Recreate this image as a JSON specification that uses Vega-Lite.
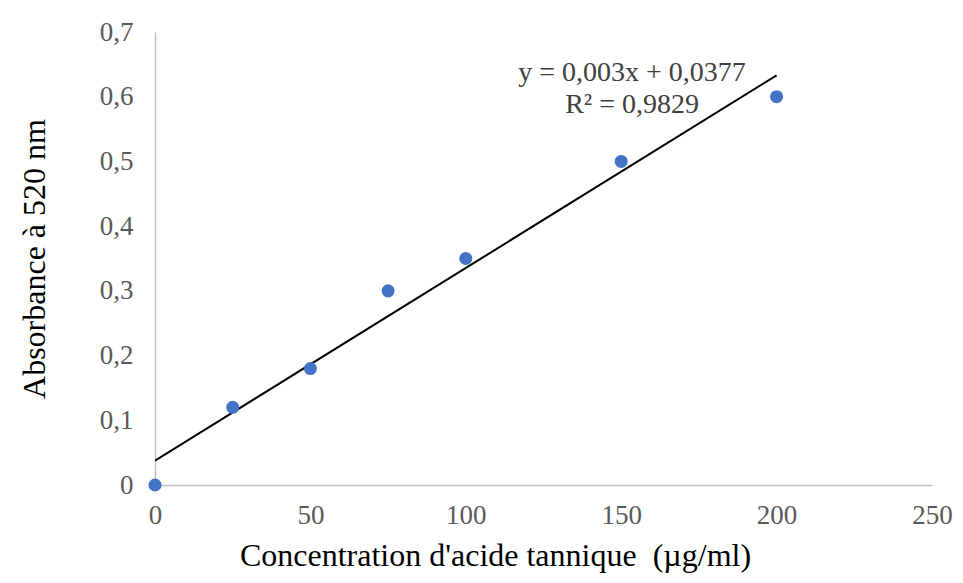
{
  "$schema": "https://vega.github.io/schema/vega-lite/v6.json",
  "autosize": "none",
  "width": 777,
  "height": 453,
  "padding": {"left": 155, "top": 32, "right": 31, "bottom": 98},
  "background": "white",
  "config": {
    "view": {"stroke": null},
    "font": "Liberation Serif",
    "axis": {
      "labelFont": "Liberation Serif",
      "titleFont": "Liberation Serif",
      "labelFontSize": 27,
      "labelColor": "#595959",
      "titleFontSize": 32,
      "titleFontWeight": "normal",
      "titleColor": "#000000",
      "domainColor": "#BFBFBF",
      "domainWidth": 1.5,
      "ticks": false,
      "grid": false,
      "labelFlush": false,
      "labelOverlap": false,
      "labelBound": false
    }
  },
  "datasets": {
    "pts": [
      {"conc": 0, "abs": 0},
      {"conc": 25, "abs": 0.12},
      {"conc": 50, "abs": 0.18},
      {"conc": 75, "abs": 0.3},
      {"conc": 100, "abs": 0.35},
      {"conc": 150, "abs": 0.5},
      {"conc": 200, "abs": 0.6}
    ],
    "eq": [
      {"conc": 153.5, "abs": 0.636, "label": "y = 0,003x + 0,0377"},
      {"conc": 153.5, "abs": 0.587, "label": "R² = 0,9829"}
    ]
  },
  "layer": [
    {
      "data": {"name": "pts"},
      "transform": [
        {"regression": "abs", "on": "conc", "method": "linear", "extent": [0, 200]}
      ],
      "mark": {"type": "line", "color": "#000000", "strokeWidth": 2, "clip": true},
      "encoding": {
        "x": {"field": "conc", "type": "quantitative"},
        "y": {"field": "abs", "type": "quantitative"}
      }
    },
    {
      "data": {"name": "pts"},
      "mark": {"type": "circle", "color": "#4472C4", "opacity": 1, "size": 170},
      "encoding": {
        "x": {
          "field": "conc",
          "type": "quantitative",
          "scale": {"domain": [0, 250], "nice": false, "zero": true},
          "axis": {
            "values": [0, 50, 100, 150, 200, 250],
            "labelPadding": 17,
            "title": "Concentration d'acide tannique \u00a0(µg/ml)",
            "titlePadding": 12,
            "titleX": 340,
            "titleAlign": "center"
          }
        },
        "y": {
          "field": "abs",
          "type": "quantitative",
          "scale": {"domain": [0, 0.7], "nice": false},
          "axis": {
            "values": [0, 0.1, 0.2, 0.3, 0.4, 0.5, 0.6, 0.7],
            "labelExpr": "datum.value == 0 ? '0' : replace(format(datum.value, '.1f'), '.', ',')",
            "labelPadding": 22,
            "title": "Absorbance à 520 nm",
            "titlePadding": 48
          }
        }
      }
    },
    {
      "data": {"name": "eq"},
      "mark": {"type": "text", "font": "Liberation Serif", "fontSize": 28, "color": "#404040", "align": "center", "baseline": "middle"},
      "encoding": {
        "x": {"field": "conc", "type": "quantitative"},
        "y": {"field": "abs", "type": "quantitative"},
        "text": {"field": "label"}
      }
    }
  ]
}
